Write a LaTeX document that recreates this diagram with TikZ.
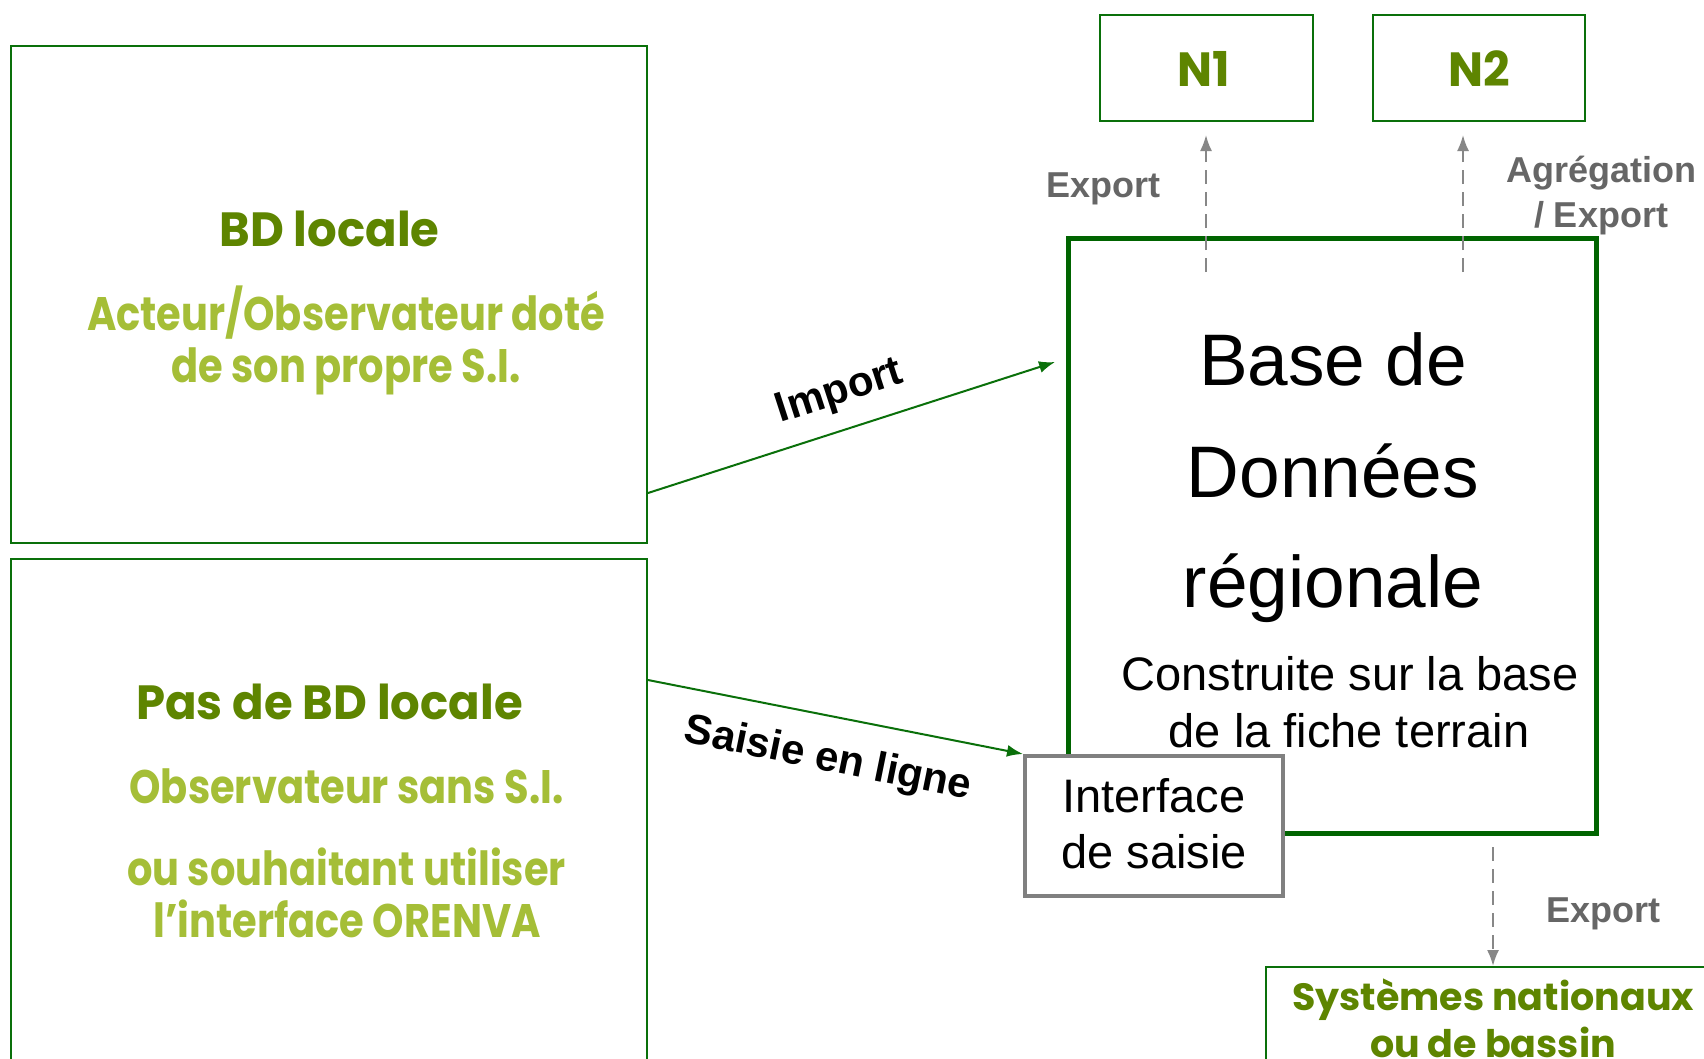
\documentclass[tikz,border=0pt]{standalone}
\usepackage{fontspec}
\setmainfont{Liberation Sans}
\newfontfamily\gothic[FakeStretch=0.85]{Poppins}
\newfontfamily\gothicwide[FakeStretch=0.97]{Poppins}
\newfontfamily\gothicfull{Poppins}
\usetikzlibrary{arrows.meta}

\definecolor{boxgreen}{HTML}{0A700A}
\definecolor{dbgreen}{HTML}{006400}
\definecolor{titlegreen}{HTML}{5E8500}
\definecolor{subgreen}{HTML}{A5BE37}
\definecolor{labelgray}{HTML}{666666}
\definecolor{arrowgray}{HTML}{878787}
\definecolor{ifacegray}{HTML}{808080}

\tikzset{
  panel/.style={draw=boxgreen, line width=2pt, inner sep=0pt},
  dbbox/.style={draw=dbgreen, line width=5pt, inner sep=0pt},
  ifacebox/.style={draw=ifacegray, fill=white, line width=4pt, inner sep=0pt},
  titletext/.style={text=titlegreen, font=\gothicwide\bfseries\fontsize{48}{56}\selectfont, anchor=base, inner sep=0pt},
  subtext/.style={text=subgreen, font=\gothic\bfseries\fontsize{47}{56}\selectfont, anchor=base, inner sep=0pt},
  smalltitle/.style={text=titlegreen, font=\gothicfull\bfseries\fontsize{38}{44}\selectfont, anchor=base, inner sep=0pt},
  bigtext/.style={text=black, font=\fontsize{73}{80}\selectfont, anchor=base, inner sep=0pt},
  midtext/.style={text=black, font=\fontsize{47}{54}\selectfont, anchor=base, inner sep=0pt},
  flowlabel/.style={text=labelgray, font=\bfseries\fontsize{36}{44}\selectfont, anchor=base, inner sep=0pt},
  arrowlabel/.style={text=black, font=\bfseries\fontsize{42}{48}\selectfont, inner sep=0pt},
  feed/.style={draw=boxgreen, line width=2pt, -{Latex[length=16pt,width=12pt]}},
  export/.style={draw=arrowgray, line width=2pt, dash pattern=on 14pt off 8pt,
                 -{Latex[length=16pt,width=12pt]}},
}

\begin{document}
\begin{tikzpicture}[x=1pt, y=-1pt]
  \clip (0,0) rectangle (1704,1058);
  \fill[white] (0,0) rectangle (1704,1058);

  % left panels
  \node[panel, minimum width=636pt, minimum height=497pt] (local) at (329,294.5) {};
  \node[panel, minimum width=636pt, minimum height=516pt] (nolocal) at (329,817) {};

  \node[titletext] (localT) at (329.5,246) {BD locale};
  \node[subtext] (localS1) at (346,330) {Acteur/Observateur doté};
  \node[subtext] (localS2) at (346,382) {de son propre S.I.};

  \node[titletext] (nolocalT) at (329.5,719) {Pas de BD locale};
  \node[subtext] (nolocalS1) at (346.5,803) {Observateur sans S.I.};
  \node[subtext] (nolocalS2) at (346.5,885) {ou souhaitant utiliser};
  \node[subtext] (nolocalS3) at (347,937) {l’interface ORENVA};

  % upper levels
  \node[panel, minimum width=213pt, minimum height=106pt] (n1) at (1206.5,68) {};
  \node[panel, minimum width=212pt, minimum height=106pt] (n2) at (1479,68) {};
  \node[titletext] (n1T) at (1204,86) {N1};
  \node[titletext] (n2T) at (1479,86) {N2};

  % regional database
  \node[dbbox, minimum width=527.5pt, minimum height=594.5pt] (db) at (1332.25,535.75) {};
  \node[bigtext] (db1) at (1333,385) {Base de};
  \node[bigtext] (db2) at (1333,497) {Données};
  \node[bigtext] (db3) at (1333,607) {régionale};
  \node[midtext] (db4) at (1350,690) {Construite sur la base};
  \node[midtext] (db5) at (1349,747) {de la fiche terrain};

  % entry interface
  \node[ifacebox, minimum width=258pt, minimum height=140pt] (iface) at (1154,826) {};
  \node[midtext] (iface1) at (1154,812) {Interface};
  \node[midtext] (iface2) at (1154,868) {de saisie};

  % national systems
  \node[panel, minimum width=454pt, minimum height=108pt] (sys) at (1493,1021) {};
  \node[smalltitle] (sys1) at (1493,1010) {Systèmes nationaux};
  \node[smalltitle] (sys2) at (1493,1057) {ou de bassin};

  % feeds into the database
  \coordinate (importEnd) at (1055,362);
  \draw[feed] ([yshift=51pt]local.south east) -- (importEnd);
  \draw[feed] ([yshift=-122pt]nolocal.north east) -- (iface.north west);
  \node[arrowlabel, rotate=18] (importL) at (840,393) {Import};
  \node[arrowlabel, rotate=-11.5] (saisieL) at (828,760) {Saisie en ligne};

  % exports
  \coordinate (n1from) at (1206,272);
  \coordinate (n1to) at (1206,135);
  \coordinate (n2from) at (1463,272);
  \coordinate (n2to) at (1463,135);
  \coordinate (sysfrom) at (1493,847);
  \draw[export] (n1from) -- (n1to);
  \draw[export] (n2from) -- (n2to);
  \draw[export] (sysfrom) -- (sys.north);

  \node[flowlabel] (exp1) at (1103,197) {Export};
  \node[flowlabel] (agg1) at (1601,182) {Agrégation};
  \node[flowlabel] (agg2) at (1601,227) {/ Export};
  \node[flowlabel] (exp3) at (1603,922) {Export};
\end{tikzpicture}
\end{document}
